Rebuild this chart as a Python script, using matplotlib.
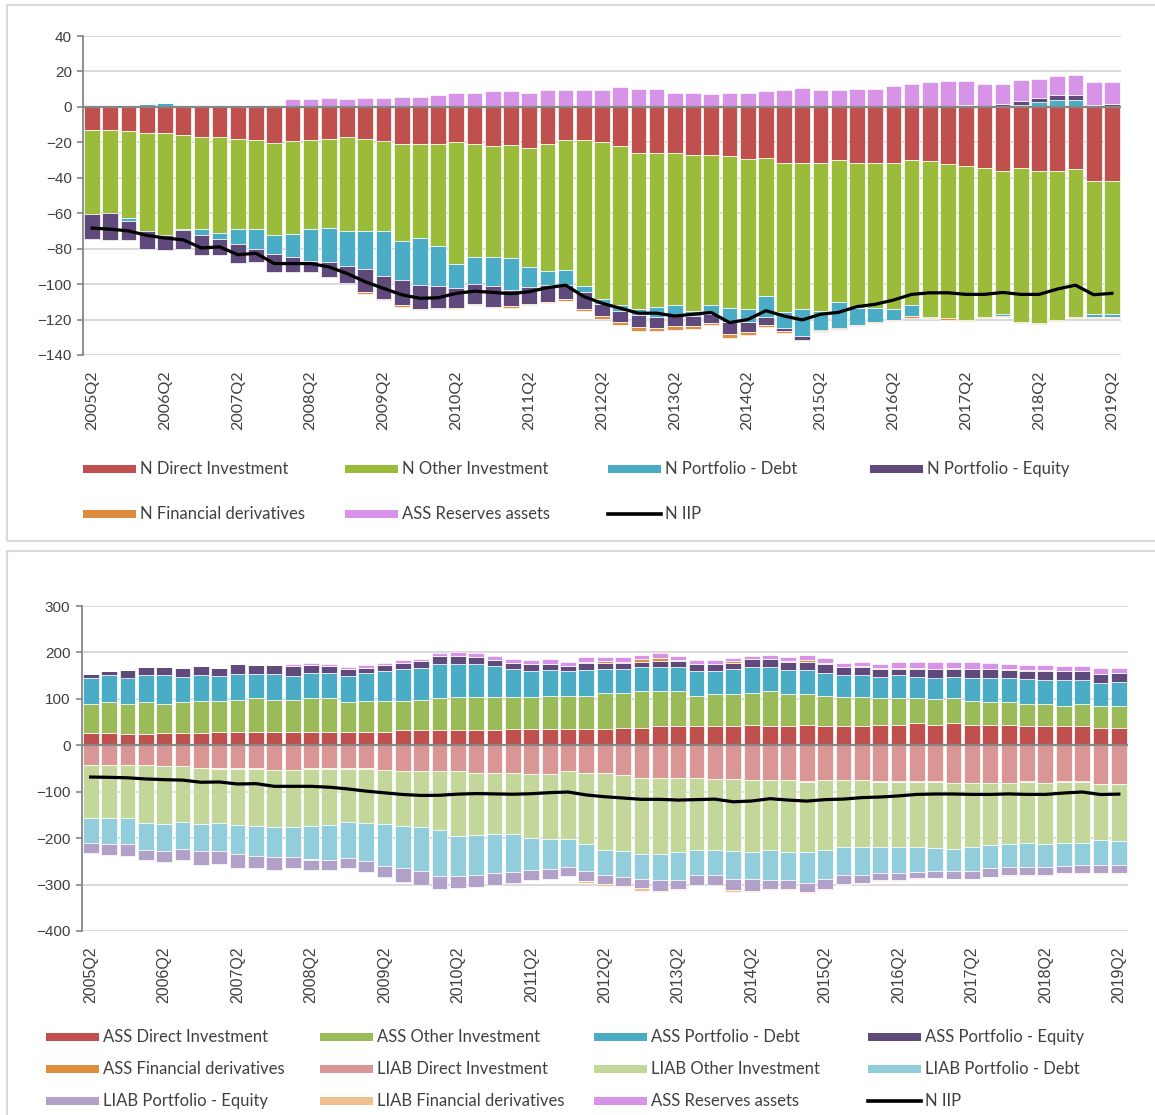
import numpy as np
import matplotlib
matplotlib.use("Agg")
import matplotlib.pyplot as plt
from matplotlib.patches import Rectangle
from matplotlib.lines import Line2D

W, H = 1155, 1115

# Quarters 2005Q2 .. 2019Q2
quarters = [f"{y}Q{q}" for y in range(2005, 2020) for q in range(1, 5)][1:-2]
tick_labels = ["2005Q2", "2006Q2", "2007Q2", "2008Q2", "2009Q2", "2010Q2", "2011Q2",
               "2012Q2", "2013Q2", "2014Q2", "2015Q2", "2016Q2", "2017Q2", "2018Q2", "2019Q2"]

# Net positions (% of GDP)
n_direct = [-13.1, -13.0, -13.6, -15.0, -15.0, -15.7, -17.2, -17.2, -18.0, -18.7,
            -20.2, -19.4, -18.7, -18.0, -17.2, -18.0, -19.4, -20.7, -20.7, -20.7,
            -20.0, -20.7, -22.0, -21.5, -23.0, -20.7, -18.7, -18.7, -20.0, -22.2,
            -25.8, -25.8, -25.8, -27.0, -27.0, -27.9, -29.2, -28.6, -31.4, -31.4,
            -31.4, -29.9, -31.4, -31.4, -31.4, -29.9, -30.8, -32.3, -33.6, -34.4,
            -35.9, -34.4, -35.9, -35.9, -35.1, -41.7, -41.7]
n_other = [-47.3, -47.0, -49.0, -55.3, -57.5, -53.3, -51.6, -53.8, -50.8, -50.1,
           -52.3, -52.6, -50.1, -50.2, -53.1, -52.3, -50.9, -55.2, -53.1, -57.6,
           -68.4, -64.0, -62.7, -63.7, -67.5, -72.0, -73.1, -82.3, -88.6, -89.8,
           -88.4, -86.9, -86.2, -88.0, -85.0, -85.7, -85.0, -77.9, -84.1, -82.6,
           -83.6, -80.4, -81.9, -81.9, -82.8, -82.1, -87.5, -87.0, -86.6, -83.9,
           -80.9, -86.9, -86.1, -84.3, -83.2, -75.3, -75.3]
n_pf_debt = [0.0, 0.0, -2.0, 1.5, 2.2, -0.7, -3.7, -3.4, -8.8, -11.2,
             -10.7, -12.7, -18.0, -19.3, -19.4, -21.0, -25.2, -21.9, -26.7, -22.8,
             -14.0, -15.0, -16.4, -18.1, -11.4, -7.9, -8.8, -3.2, -2.6, -3.4,
             -3.2, -5.6, -5.2, -3.0, -4.9, -7.5, -6.9, -12.1, -9.3, -15.5,
             -10.7, -14.2, -10.0, -8.2, -6.0, -6.2, -0.9, 0.0, 0.0, 0.0,
             -1.1, 1.0, 3.0, 3.7, 3.7, -1.3, -1.3]
n_pf_equity = [-14.0, -15.0, -10.5, -9.7, -8.5, -10.3, -11.2, -9.3, -10.4, -7.5,
               -9.8, -8.3, -6.2, -8.5, -9.9, -13.4, -12.9, -14.0, -13.5, -12.1,
               -10.8, -11.4, -11.8, -9.3, -9.2, -9.3, -7.9, -9.9, -6.7, -6.2,
               -6.9, -6.5, -6.5, -5.4, -5.0, -7.1, -6.0, -4.3, -1.9, -1.9,
               -0.9, -0.7, 0.0, 0.0, 0.0, 0.0, 0.0, 0.0, 0.9, 0.0,
               1.9, 2.6, 2.2, 3.0, 3.0, 0.8, 1.5]
n_fin_deriv = [0.0, 0.0, 0.0, 0.0, 0.0, 0.0, 0.0, 0.0, 0.0, 0.0,
               0.0, 0.0, 0.0, 0.0, 0.0, -0.8, -0.5, -1.0, -0.7, -0.7,
               -0.7, -0.7, -0.6, -0.6, -0.7, -1.0, -1.0, -1.0, -1.7, -1.3,
               -2.0, -1.9, -2.2, -1.9, -1.0, -2.2, -1.5, -1.3, -0.9, 0.0,
               -0.6, -0.6, -0.3, -0.7, -0.5, -0.7, -0.6, -0.7, -0.6, -0.7,
               -0.7, -0.7, -0.7, -0.6, -0.7, -0.7, -0.7]
reserves = [0.0, 0.0, 0.0, 0.0, 0.0, 0.0, 0.0, 0.0, 0.0, 0.0,
            0.0, 4.5, 4.5, 5.2, 4.5, 5.0, 5.2, 5.8, 5.8, 6.5,
            8.0, 8.0, 8.8, 8.8, 8.0, 9.5, 9.5, 9.5, 9.5, 11.0,
            10.3, 10.3, 8.0, 8.0, 7.3, 8.0, 8.0, 8.8, 9.3, 10.8,
            9.3, 9.3, 10.0, 10.0, 11.6, 13.0, 13.8, 14.4, 13.5, 13.0,
            11.1, 11.7, 10.7, 10.5, 11.2, 13.0, 12.3]
n_iip = [-68.4, -69.0, -70.0, -72.5, -74.0, -75.0, -79.6, -79.0, -83.4, -82.6,
         -88.4, -88.4, -88.4, -90.3, -94.0, -98.7, -102.4, -106.0, -108.0, -107.7,
         -105.2, -104.0, -104.7, -105.4, -104.3, -102.0, -100.6, -107.0, -110.8, -113.6,
         -116.4, -116.4, -118.0, -117.0, -116.0, -121.7, -120.0, -115.0, -118.0, -120.2,
         -117.0, -115.9, -112.7, -111.4, -109.0, -105.8, -104.9, -104.9, -105.8, -105.8,
         -104.7, -105.8, -105.8, -102.8, -100.6, -106.0, -105.2]

# Gross assets and liabilities
ass_direct = [27, 27, 24, 24, 27, 27, 27, 29, 29, 29,
              29, 29, 29, 29, 29, 29, 29, 32, 32, 32,
              32, 32, 32, 35, 35, 35, 35, 35, 35, 38,
              38, 41, 41, 41, 41, 41, 44, 41, 41, 44,
              41, 41, 41, 44, 44, 47, 44, 47, 44, 44,
              44, 41, 41, 41, 41, 38, 38]
ass_other = [63, 67, 64, 70, 63, 66, 69, 66, 69, 72,
             69, 69, 72, 72, 64, 66, 66, 63, 66, 69,
             72, 72, 72, 69, 69, 72, 72, 72, 78, 75,
             78, 75, 75, 66, 69, 69, 69, 75, 69, 66,
             66, 63, 63, 57, 57, 54, 55, 54, 52, 50,
             50, 47, 47, 44, 47, 47, 47]
ass_pf_debt = [55, 57, 58, 57, 61, 54, 55, 55, 56, 53,
               56, 52, 55, 55, 57, 60, 64, 69, 69, 75,
               72, 72, 66, 60, 57, 55, 52, 55, 52, 52,
               52, 52, 52, 52, 49, 55, 55, 52, 52, 52,
               49, 47, 47, 47, 50, 47, 47, 47, 50, 52,
               52, 55, 52, 55, 52, 50, 52]
ass_pf_equity = [8, 9, 16, 17, 17, 20, 19, 17, 22, 19,
                 19, 20, 17, 14, 14, 12, 13, 14, 14, 16,
                 16, 14, 14, 14, 14, 14, 11, 16, 12, 12,
                 11, 14, 14, 16, 16, 13, 17, 17, 17, 17,
                 20, 17, 18, 16, 14, 16, 19, 16, 19, 19,
                 17, 17, 20, 20, 20, 19, 18]
ass_fin_deriv = [0, 0, 0, 0, 0, 0, 0, 0, 0, 0,
                 0, 0, 0, 0, 0, 0, 0, 0, 0, 0,
                 0, 0, 0, 0, 0, 0, 0, 2, 4, 3,
                 6, 6, 2, 1, 1, 3, 0, 0, 2, 4,
                 2, 1, 1, 2, 2, 2, 0, 2, 0, 0,
                 2, 2, 2, 0, 0, 0, 0]
liab_direct = [-42, -42, -42, -42, -45, -45, -48, -50, -50, -50,
               -54, -54, -50, -50, -50, -50, -54, -56, -56, -56,
               -56, -59, -59, -59, -61, -61, -56, -59, -59, -65,
               -70, -70, -70, -70, -73, -73, -75, -75, -75, -78,
               -75, -75, -75, -78, -78, -78, -78, -81, -81, -81,
               -81, -78, -81, -78, -78, -84, -84]
liab_other = [-114, -114, -114, -125, -124, -121, -121, -118, -122, -124,
              -121, -121, -124, -122, -116, -118, -115, -118, -121, -126,
              -140, -135, -133, -133, -139, -141, -146, -154, -166, -163,
              -164, -164, -160, -156, -152, -154, -154, -150, -154, -151,
              -151, -144, -144, -141, -140, -140, -143, -143, -138, -134,
              -132, -132, -132, -132, -132, -121, -123]
liab_pf_debt = [-54, -57, -57, -58, -59, -58, -59, -59, -63, -64,
                -66, -66, -72, -74, -76, -82, -90, -90, -94, -100,
                -85, -86, -83, -80, -68, -65, -60, -58, -55, -55,
                -54, -57, -60, -54, -55, -60, -60, -66, -61, -67,
                -61, -61, -61, -56, -56, -54, -50, -47, -52, -50,
                -50, -52, -49, -50, -47, -52, -50]
liab_pf_equity = [-22, -24, -26, -23, -23, -23, -29, -29, -29, -26,
                  -28, -24, -23, -23, -23, -24, -25, -31, -29, -27,
                  -27, -25, -26, -24, -22, -22, -19, -22, -18, -20,
                  -20, -22, -19, -22, -22, -24, -25, -18, -20, -20,
                  -22, -19, -17, -16, -16, -14, -14, -16, -16, -18,
                  -17, -17, -17, -15, -18, -18, -18]
liab_fin_deriv = [0, 0, 0, 0, 0, 0, 0, 0, 0, 0,
                  0, 0, 0, 0, 0, 0, 0, 0, 0, 0,
                  0, 0, 0, 0, 0, 0, 0, -3, -4, -3,
                  -5, -4, -3, -2, -2, -4, -3, -2, -2, -2,
                  -2, -2, -2, -2, -2, -2, -1.5, -2, -1.5, -1.5,
                  -2, -2, -2, -1.5, -1.5, -1.5, -1.5]

RED, GREEN, GREEN2, BLUE, PURPLE = "#C0504D", "#9BBB3A", "#9BBB59", "#4BACC6", "#604A7B"
ORANGE, PINK = "#DE8D3E", "#D693E8"
L_RED, L_GREEN, L_BLUE, L_PURPLE, L_ORANGE = "#DA9694", "#C4D79B", "#92CDDC", "#B1A0C7", "#F2C08F"
AXIS_GREY, GRID_GREY, TEXT = "#868686", "#D9D9D9", "#404040"

x = np.arange(len(quarters))


def stacked(ax, series):
    # Excel-style stacking: positives and negatives pile up separately
    pos = np.zeros(len(x))
    neg = np.zeros(len(x))
    for vals, color in series:
        v = np.asarray(vals, dtype=float)
        base = np.where(v >= 0, pos, neg)
        ax.bar(x, v, bottom=base, width=0.86, color=color,
               edgecolor="white", linewidth=0.5, zorder=2)
        pos = pos + np.clip(v, 0, None)
        neg = neg + np.clip(v, None, 0)


def style_axes(ax, ylim, step, xfont):
    ax.set_xlim(-0.5, len(x) - 0.5)
    ax.set_ylim(*ylim)
    ax.set_yticks(np.arange(ylim[0], ylim[1] + 1, step))
    ax.grid(axis="y", color=GRID_GREY, linewidth=1.4, zorder=0)
    ax.set_axisbelow(True)
    for s in ["top", "right", "bottom"]:
        ax.spines[s].set_visible(False)
    ax.spines["left"].set_color(AXIS_GREY)
    ax.spines["left"].set_linewidth(1.3)
    ax.axhline(0, color=AXIS_GREY, linewidth=1.6, zorder=3)
    ax.tick_params(axis="y", length=4, width=1.2, color=AXIS_GREY,
                   labelsize=11, labelcolor=TEXT, pad=4)
    for t in ax.get_yticklabels():
        t.set_family("Liberation Sans")
    ax.set_xticks(x[::4])
    ax.set_xticklabels(tick_labels, rotation=90, fontsize=11.5,
                       family=xfont, color=TEXT)
    ax.tick_params(axis="x", length=0, pad=11)


def add_legend(fig, entries, cols_x, rows_y, text_dx):
    ncol = len(cols_x)
    for i, (label, color, kind) in enumerate(entries):
        r, c = divmod(i, ncol)
        x0, y0 = cols_x[c], rows_y[r]
        if kind == "bar":
            fig.add_artist(Rectangle((x0 / W, 1 - (y0 + 4) / H), 53 / W, 8 / H,
                                     facecolor=color, edgecolor="none",
                                     transform=fig.transFigure))
        else:
            fig.add_artist(Line2D([x0 / W, (x0 + 53) / W], [1 - y0 / H] * 2,
                                  color=color, linewidth=2.6,
                                  transform=fig.transFigure))
        fig.text((x0 + text_dx) / W, 1 - y0 / H, label, ha="left", va="center",
                 fontsize=12, family="Lato", color=TEXT)


fig = plt.figure(figsize=(W / 100, H / 100), dpi=100)

# Panel frames
for top, bottom in [(5, 541), (551, 1119)]:
    fig.add_artist(Rectangle((7 / W, 1 - bottom / H), (W + 5 - 7) / W, (bottom - top) / H,
                             facecolor="none", edgecolor=GRID_GREY, linewidth=1.5,
                             transform=fig.transFigure))

# Net IIP breakdown
ax1 = fig.add_axes([83 / W, 1 - 355 / H, (1121 - 83) / W, (355 - 36) / H])
stacked(ax1, [(n_direct, RED), (n_other, GREEN), (n_pf_debt, BLUE),
              (n_pf_equity, PURPLE), (n_fin_deriv, ORANGE), (reserves, PINK)])
ax1.plot(x, n_iip, color="black", linewidth=2.3, zorder=5)
style_axes(ax1, (-140, 40), 20, "Lato")

add_legend(fig, [("N Direct Investment", RED, "bar"),
                 ("N Other Investment", GREEN, "bar"),
                 ("N Portfolio - Debt", BLUE, "bar"),
                 ("N Portfolio - Equity", PURPLE, "bar"),
                 ("N Financial derivatives", ORANGE, "bar"),
                 ("ASS Reserves assets", PINK, "bar"),
                 ("N IIP", "black", "line")],
           [83, 345, 608, 870], [469, 514], 57)

# Gross assets and liabilities
ax2 = fig.add_axes([81.5 / W, 1 - 931 / H, (1128 - 81.5) / W, (931 - 606) / H])
stacked(ax2, [(ass_direct, RED), (ass_other, GREEN2), (ass_pf_debt, BLUE),
              (ass_pf_equity, PURPLE), (ass_fin_deriv, ORANGE),
              (liab_direct, L_RED), (liab_other, L_GREEN), (liab_pf_debt, L_BLUE),
              (liab_pf_equity, L_PURPLE), (liab_fin_deriv, L_ORANGE), (reserves, PINK)])
ax2.plot(x, n_iip, color="black", linewidth=2.3, zorder=5)
style_axes(ax2, (-400, 300), 100, "Liberation Sans")

add_legend(fig, [("ASS Direct Investment", RED, "bar"),
                 ("ASS Other Investment", GREEN2, "bar"),
                 ("ASS Portfolio - Debt", BLUE, "bar"),
                 ("ASS Portfolio - Equity", PURPLE, "bar"),
                 ("ASS Financial derivatives", ORANGE, "bar"),
                 ("LIAB Direct Investment", L_RED, "bar"),
                 ("LIAB Other Investment", L_GREEN, "bar"),
                 ("LIAB Portfolio - Debt", L_BLUE, "bar"),
                 ("LIAB Portfolio - Equity", L_PURPLE, "bar"),
                 ("LIAB Financial derivatives", L_ORANGE, "bar"),
                 ("ASS Reserves assets", PINK, "bar"),
                 ("N IIP", "black", "line")],
           [46, 320, 594, 868], [1037, 1069, 1101], 57)

fig.savefig("out.png", dpi=100, facecolor="white")
